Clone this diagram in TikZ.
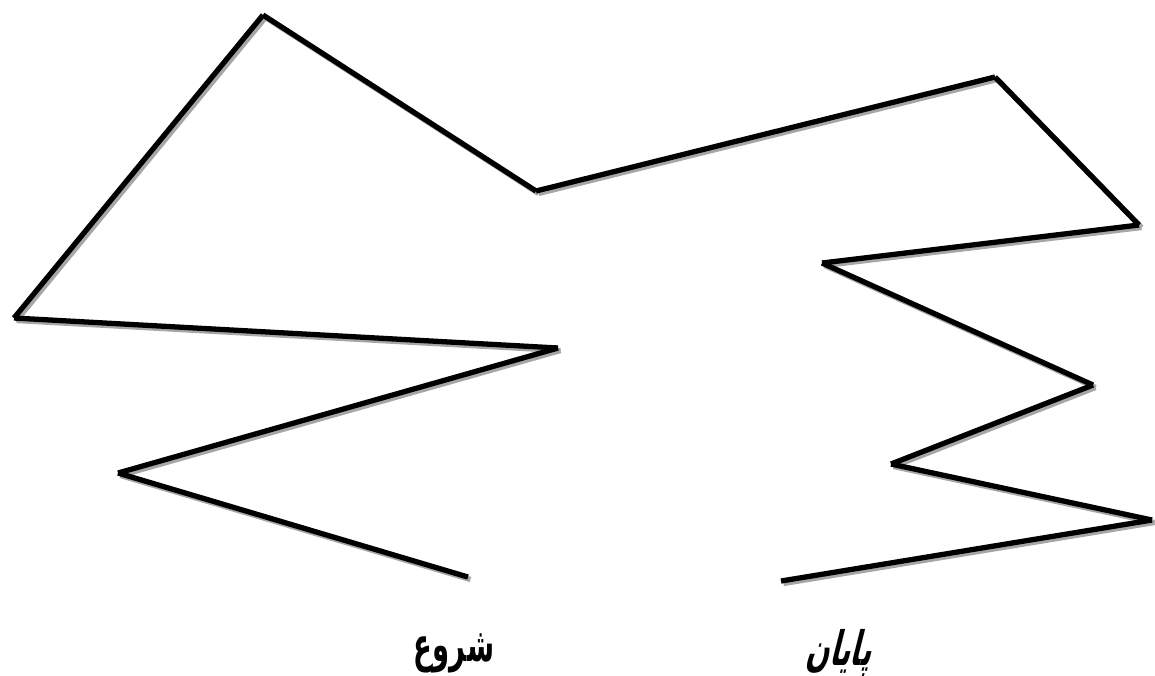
\documentclass[tikz,border=0pt]{standalone}
\usepackage{fontspec}
\newfontfamily\arabicfont[Script=Arabic,FakeStretch=0.58]{DejaVu Sans}
\newfontfamily\arabicslant[Script=Arabic,FakeStretch=0.58,FakeSlant=0.25]{DejaVu Sans}
\TeXXeTstate=1
\begin{document}
\begin{tikzpicture}[x=0.01cm,y=-0.01cm,
    seg/.style={line width=1.5pt},
    segshadow/.style={line width=1.5pt, black!35},
    label/.style={font=\fontsize{13.5}{15}\selectfont\bfseries}]

% Frame
\useasboundingbox (0,0) rectangle (1155,675);

% Corner points of the route
\coordinate (p0) at (468,577);
\coordinate (p1) at (118,473);
\coordinate (p2) at (558,348);
\coordinate (p3) at (14,318);
\coordinate (p4) at (263,15);
\coordinate (p5) at (536,191);
\coordinate (p6) at (995,77);
\coordinate (p7) at (1139,225);
\coordinate (p8) at (822,263);
\coordinate (p9) at (1093,385);
\coordinate (p10) at (891,464);
\coordinate (p11) at (1152,520);
\coordinate (p12) at (781,581);

% Shadow then line, one segment at a time
\foreach \a [evaluate=\a as \b using int(\a+1)] in {0,...,11} {
    \draw[segshadow] ([shift={(2.5,2.5)}]p\a) -- ([shift={(2.5,2.5)}]p\b);
}
\foreach \a [evaluate=\a as \b using int(\a+1)] in {0,...,11} {
    \draw[seg] (p\a) -- (p\b);
}

% Labels
\node[label] (start) at (454,653) {\arabicfont\beginR شروع\endR};
\node[label] (finish) at (838,653) {\arabicslant\beginR پایان\endR};

\end{tikzpicture}
\end{document}
